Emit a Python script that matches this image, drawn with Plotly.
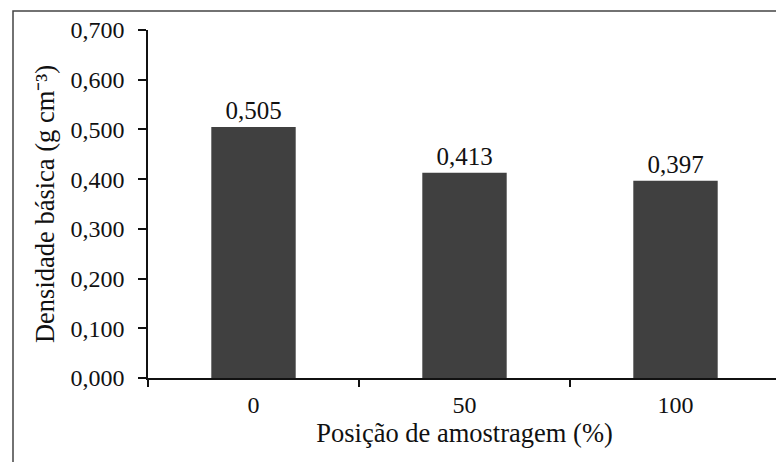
import plotly.graph_objects as go

categories = ["0", "50", "100"]
values = [0.505, 0.413, 0.397]
y_ticks = [0.0, 0.1, 0.2, 0.3, 0.4, 0.5, 0.6, 0.7]

FONT = "Liberation Serif, Times New Roman, serif"
FS = 24
FS_TITLE = 26.5

# the page body has an 8px margin; plot area target in screen px: x 148..781, y 30..378
fig = go.Figure(go.Bar(
    x=categories, y=values,
    marker=dict(color="#404040", line=dict(width=0)),
    width=0.4,
    text=[f"{v:.3f}".replace(".", ",") for v in values],
    textposition="outside",
    textfont=dict(family=FONT, size=25, color="#111"),
    cliponaxis=False,
))

fig.update_layout(
    width=784, height=462,
    margin=dict(l=140, r=11, t=22, b=92),
    paper_bgcolor="white", plot_bgcolor="white",
    separators=",.",
    font=dict(family=FONT, size=FS, color="#111"),
    showlegend=False,
    xaxis=dict(
        type="category", tickson="boundaries", automargin=False,
        showline=True, linecolor="#111", linewidth=1.5,
        ticks="outside", ticklen=7, tickcolor="#111", tickwidth=1.5,
        ticklabelstandoff=4,
        showgrid=False, zeroline=False,
        title=dict(text="Posição de amostragem (%)", standoff=6,
                   font=dict(family=FONT, size=FS_TITLE)),
    ),
    yaxis=dict(
        range=[0, 0.7], tickvals=y_ticks, tickformat=".3f", automargin=False,
        showline=True, linecolor="#111", linewidth=1.5,
        ticks="outside", ticklen=8, tickcolor="#111", tickwidth=1.5,
        ticklabelstandoff=9,
        showgrid=False, zeroline=False,
        title=dict(text="Densidade básica (g cm⁻³)", standoff=8,
                   font=dict(family=FONT, size=FS_TITLE)),
    ),
    shapes=[dict(type="rect", xref="paper", yref="paper",
                 x0=(13 - 148) / 633, x1=(800 - 148) / 633,
                 y0=(378 - 480) / 348, y1=1 + (30 - 11) / 348,
                 line=dict(color="#444", width=1.5), layer="below")],
)

fig.write_html("out.html")
